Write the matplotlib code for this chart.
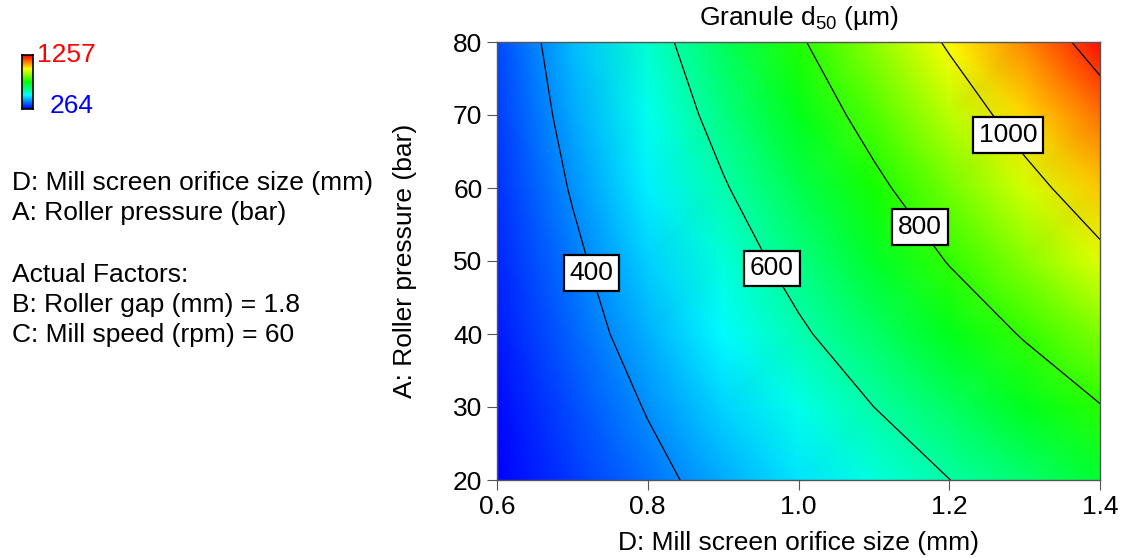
import matplotlib
matplotlib.use('Agg')
import matplotlib.pyplot as plt
import numpy as np
from matplotlib.colors import LinearSegmentedColormap

plt.rcParams['font.family'] = ['Liberation Sans', 'DejaVu Sans']
plt.rcParams['mathtext.fontset'] = 'custom'
plt.rcParams['mathtext.rm'] = 'Liberation Sans'

# factor levels
orifice = [0.6, 0.7, 0.8, 0.9, 1.0, 1.1, 1.2, 1.3, 1.4]
pressure = [20, 30, 40, 50, 60, 70, 80]

# granule d50 (um) per pressure row
d50_p20 = [264, 320, 376, 432, 488, 544, 599, 655, 711]
d50_p30 = [275, 340, 405, 470, 535, 600, 665, 730, 796]
d50_p40 = [289, 363, 437, 511, 586, 660, 734, 808, 882]
d50_p50 = [299, 383, 467, 551, 634, 718, 805, 890, 975]
d50_p60 = [312, 406, 499, 592, 685, 778, 872, 966, 1060]
d50_p70 = [324, 427, 530, 633, 736, 837, 940, 1044, 1147]
d50_p80 = [334, 447, 560, 674, 788, 900, 1012, 1125, 1245]

levels = [400, 600, 800, 1000, 1200]
label_pos = [(0.731, 48.5), (0.957, 48.5), (1.162, 54.7), (1.286, 67.9)]
zmin, zmax = 264, 1257

Z = np.array([d50_p20, d50_p30, d50_p40, d50_p50, d50_p60, d50_p70, d50_p80])
X, Y = np.meshgrid(orifice, pressure)

cmap = LinearSegmentedColormap.from_list(
    'de', ['#0000ff', '#00ffff', '#00ff00', '#ffff00', '#ff0000'])

fig = plt.figure(figsize=(11.24, 5.58), dpi=100)
ax = fig.add_axes([497/1124, 1 - 480/558, 603/1124, 438/558])

ax.pcolormesh(X, Y, Z, cmap=cmap, vmin=zmin, vmax=zmax, shading='gouraud')
cs = ax.contour(X, Y, Z, levels=levels, colors='black', linewidths=0.9)
labels = ax.clabel(cs, levels=levels[:4], fmt='%d', fontsize=19,
                   inline=False, manual=label_pos)
for t in labels:
    t.set_rotation(0)
    t.set_bbox(dict(facecolor='white', edgecolor='black', linewidth=1.6,
                    boxstyle='square,pad=0.22'))

ax.set_xlim(0.6, 1.4)
ax.set_ylim(20, 80)
ax.set_xticks([0.6, 0.8, 1.0, 1.2, 1.4])
ax.set_xticklabels(['0.6', '0.8', '1.0', '1.2', '1.4'])
ax.set_yticks([20, 30, 40, 50, 60, 70, 80])
ax.tick_params(labelsize=19, length=7, direction='out', color='#555555')
for s in ax.spines.values():
    s.set_color('#555555')
    s.set_linewidth(1)
ax.set_xlabel('D: Mill screen orifice size (mm)', fontsize=19, labelpad=9)
ax.set_ylabel('A: Roller pressure (bar)', fontsize=19, labelpad=26)
ax.set_title('Granule d$_{\\mathrm{50}}$ (µm)', fontsize=19, pad=12)

# small legend bar on the left
cax = fig.add_axes([22/1124, 1 - 109/558, 11/1124, 54/558])
cax.imshow(np.linspace(1, 0, 50).reshape(-1, 1), cmap=cmap, aspect='auto')
cax.set_xticks([])
cax.set_yticks([])
for s in cax.spines.values():
    s.set_linewidth(1.2)
fig.text(37/1124, 1 - 55/558, str(zmax), color='red', fontsize=19, va='center')
fig.text(50/1124, 1 - 106/558, str(zmin), color='blue', fontsize=19, va='center')

info = [('D: Mill screen orifice size (mm)', 183),
        ('A: Roller pressure (bar)', 213),
        ('Actual Factors:', 275),
        ('B: Roller gap (mm) = 1.8', 305),
        ('C: Mill speed (rpm) = 60', 335)]
for txt, ypx in info:
    fig.text(12/1124, 1 - ypx/558, txt, fontsize=19, va='center')

fig.savefig('out.png', dpi=100)
